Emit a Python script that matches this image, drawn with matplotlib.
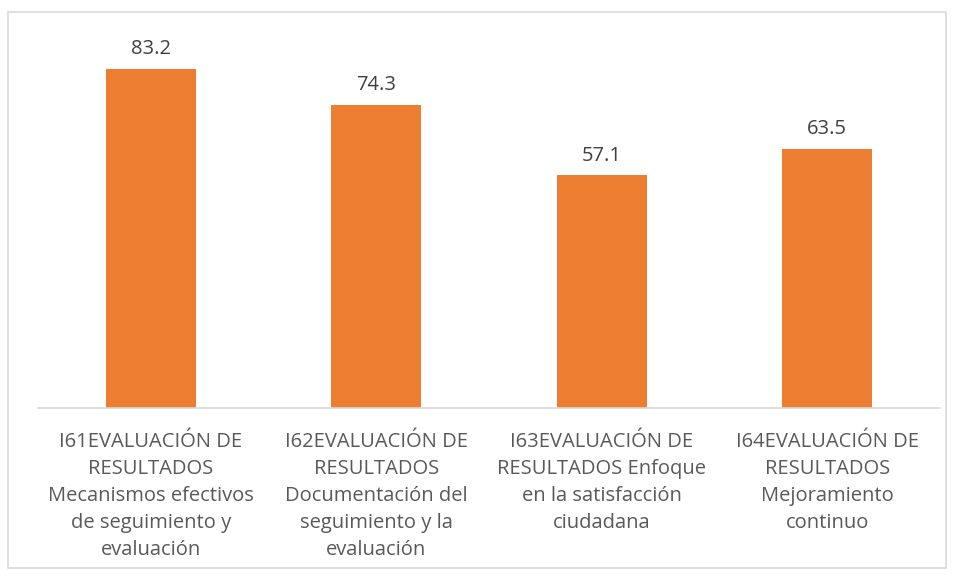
import matplotlib.pyplot as plt
from matplotlib.patches import Rectangle

categorias = [
    "I61EVALUACIÓN DE\nRESULTADOS\nMecanismos efectivos\nde seguimiento y\nevaluación",
    "I62EVALUACIÓN DE\nRESULTADOS\nDocumentación del\nseguimiento y la\nevaluación",
    "I63EVALUACIÓN DE\nRESULTADOS Enfoque\nen la satisfacción\nciudadana",
    "I64EVALUACIÓN DE\nRESULTADOS\nMejoramiento\ncontinuo",
]
valores = [83.2, 74.3, 57.1, 63.5]

plt.rcParams['font.family'] = ['Open Sans', 'DejaVu Sans']

fig = plt.figure(figsize=(9.54, 5.80), dpi=100)
ax = fig.add_axes([38 / 954, 172 / 580, 902 / 954, 366.7 / 580])

x = range(len(valores))
barras = ax.bar(x, valores, width=0.4, color='#ED7D31')

for b, v in zip(barras, valores):
    ax.text(b.get_x() + b.get_width() / 2, v + 2.4, f"{v:.1f}",
            ha='center', va='bottom', fontsize=14.5, color='#404040')

ax.set_xlim(-0.5, len(valores) - 0.5)
ax.set_ylim(0, 90)
ax.set_yticks([])
ax.set_xticks(list(x))
ax.set_xticklabels(categorias, fontsize=14.5, color='#595959', linespacing=1.47)
ax.tick_params(axis='x', length=0, pad=17)

for s in ['top', 'right', 'left']:
    ax.spines[s].set_visible(False)
ax.spines['bottom'].set_color('#d9d9d9')
ax.spines['bottom'].set_linewidth(1.2)

# borde del gráfico
fig.patches.append(Rectangle((8 / 954, 12 / 580), 938 / 954, 556 / 580,
                             transform=fig.transFigure, fill=False,
                             edgecolor='#d9d9d9', linewidth=1.2))

plt.savefig('out.png', dpi=100)
